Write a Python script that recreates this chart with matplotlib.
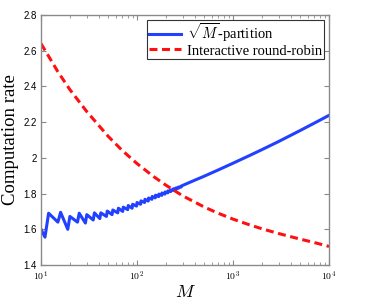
import matplotlib
matplotlib.use('Agg')
import matplotlib.pyplot as plt
from matplotlib.ticker import FixedLocator, LogLocator, NullFormatter

plt.rcParams['mathtext.fontset'] = 'cm'
plt.rcParams['font.family'] = ['Liberation Serif', 'DejaVu Serif']

# sqrt(M)-partition (sawtooth at small M, then smooth)
m_part = [10, 11, 12, 15, 16, 19, 20, 24, 25, 29, 30, 35, 36, 41, 42, 48, 49,
          55, 56, 63, 64, 71, 72, 80, 81, 89, 90, 99, 100, 109, 110, 120, 121,
          131, 132, 143, 144, 155, 156, 168, 169, 181, 182, 195, 196, 209, 210,
          224, 225, 239, 240, 255, 256, 271, 272, 288, 289,
          300, 400, 500, 700, 1000, 1500, 2000, 3000, 5000, 7000, 10000]
rate_part = [1.600, 1.556, 1.690, 1.640, 1.695, 1.600, 1.672, 1.640, 1.690, 1.635,
             1.682, 1.652, 1.692, 1.660, 1.692, 1.672, 1.702, 1.682, 1.708,
             1.692, 1.718, 1.700, 1.724, 1.710, 1.733, 1.718, 1.740, 1.730,
             1.750, 1.740, 1.759, 1.750, 1.768, 1.758, 1.775, 1.768, 1.784,
             1.776, 1.791, 1.783, 1.797, 1.790, 1.803, 1.797, 1.809, 1.804,
             1.815, 1.811, 1.821, 1.818, 1.827, 1.824, 1.832, 1.830, 1.837,
             1.836, 1.842,
             1.846, 1.875, 1.897, 1.932, 1.970, 2.014, 2.046, 2.092, 2.153,
             2.194, 2.238]

# interactive round-robin
m_rr = [10, 15, 20, 30, 50, 70, 100, 150, 200, 300, 500, 700, 1000, 1500,
        2000, 3000, 5000, 7000, 10000]
rate_rr = [2.640, 2.482, 2.382, 2.259, 2.121, 2.042, 1.968, 1.894, 1.847,
           1.787, 1.725, 1.690, 1.657, 1.624, 1.603, 1.576, 1.545, 1.526, 1.504]

xticks = [10, 100, 1000, 10000]
xtick_labels = [r'$\mathsf{10^{1}}$', r'$\mathsf{10^{2}}$',
                r'$\mathsf{10^{3}}$', r'$\mathsf{10^{4}}$']
yticks = [1.4, 1.6, 1.8, 2.0, 2.2, 2.4, 2.6, 2.8]
ytick_labels = ['1.4', '1.6', '1.8', '2', '2.2', '2.4', '2.6', '2.8']

fig = plt.figure(figsize=(3.68, 3.0), dpi=100)
ax = fig.add_axes([41 / 368, 35 / 300, 288 / 368, 250 / 300])

ax.plot(m_part, rate_part, color='#2140ff', lw=2.2, label=r'$\sqrt{M}$-partition')
ax.plot(m_rr, rate_rr, color='#ff1010', lw=2.2, dashes=(2.6, 1.5),
        label='Interactive round-robin')

ax.set_xscale('log')
ax.set_xlim(10, 10000)
ax.set_ylim(1.4, 2.8)
ax.xaxis.set_major_locator(FixedLocator(xticks))
ax.set_xticklabels(xtick_labels)
ax.xaxis.set_minor_locator(LogLocator(base=10, subs=range(2, 10)))
ax.xaxis.set_minor_formatter(NullFormatter())
ax.set_yticks(yticks)
ax.set_yticklabels(ytick_labels, family='Liberation Sans')

grey = '#8a8a8a'
for s in ax.spines.values():
    s.set_color(grey)
    s.set_linewidth(1.0)
ax.tick_params(which='both', direction='in', top=True, right=True, color=grey,
               labelsize=7, pad=3)
ax.tick_params(which='major', length=3.5)
ax.tick_params(which='minor', length=2)

ax.set_ylabel('Computation rate', fontsize=13.5, labelpad=3)
ax.set_xlabel(r'$M$', fontsize=13, labelpad=1)

leg = ax.legend(loc='upper right', bbox_to_anchor=(1 - 5 / 288, 1 - 5 / 250),
                borderaxespad=0, fancybox=False, fontsize=10.5, labelspacing=0.0,
                borderpad=0.1, handlelength=2.2, handletextpad=0.45,
                framealpha=1)
leg.get_frame().set_edgecolor('#333333')
leg.get_frame().set_linewidth(0.8)

fig.savefig('out.png', dpi=100)
